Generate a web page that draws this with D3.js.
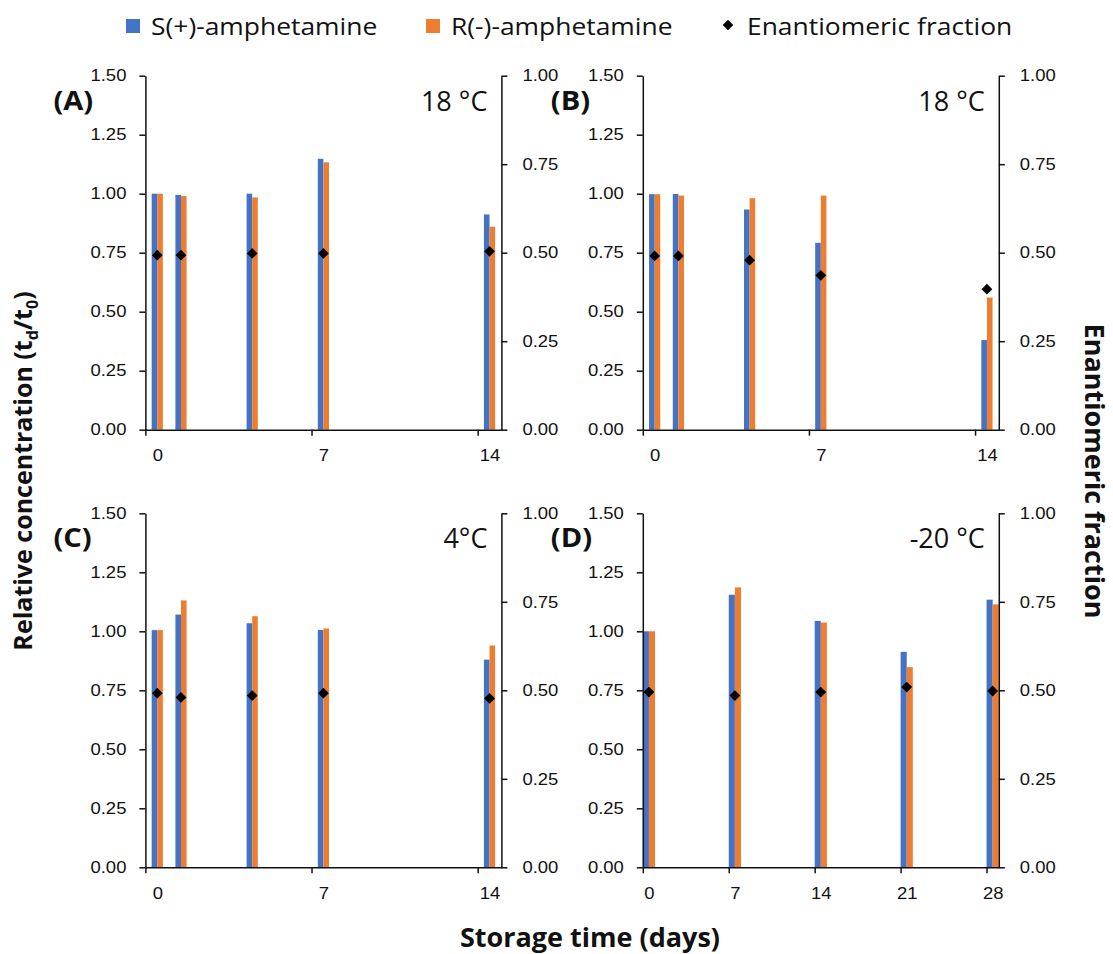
<!DOCTYPE html>
<html>
<head>
<meta charset="utf-8">
<script src="https://cdn.jsdelivr.net/npm/d3@7/dist/d3.min.js"></script>
<style>
  body { margin: 0; background: #fff; }
  svg { display: block; font-family: 'Open Sans', sans-serif; }
  .axis path, .axis line { stroke: #111; stroke-width: 1.5px; }
  .axis text { fill: #111; }
</style>
</head>
<body>
<svg id="chart" width="1113" height="954"></svg>
<script>
'use strict';

var seriesNames = ['S(+)-amphetamine', 'R(-)-amphetamine', 'Enantiomeric fraction'];
var seriesColors = ['#4472c4', '#ed7d31', '#000'];
var panelLetters = ['(A)', '(B)', '(C)', '(D)'];
var temperatures = ['18 °C', '18 °C', '4°C', '-20 °C'];

// storage days actually sampled, and the days written under the axis
var daysShort = [0, 1, 4, 7, 14];
var daysLong = [0, 7, 14, 21, 28];
var labelDaysShort = [0, 7, 14];
var labelDaysLong = [0, 7, 14, 21, 28];

// relative concentration (td/t0) and enantiomeric fraction
var sA = [1.000, 0.995, 1.000, 1.148, 0.912];
var rA = [1.000, 0.990, 0.984, 1.133, 0.860];
var efA = [0.493, 0.493, 0.498, 0.498, 0.504];

var sB = [0.998, 0.999, 0.933, 0.792, 0.380];
var rB = [0.998, 0.992, 0.981, 0.992, 0.560];
var efB = [0.491, 0.491, 0.479, 0.436, 0.397];

var sC = [1.005, 1.071, 1.034, 1.006, 0.880];
var rC = [1.005, 1.131, 1.064, 1.012, 0.940];
var efC = [0.492, 0.480, 0.485, 0.492, 0.477];

var sD = [1.000, 1.155, 1.044, 0.913, 1.134];
var rD = [1.000, 1.186, 1.037, 0.848, 1.114];
var efD = [0.495, 0.485, 0.495, 0.509, 0.498];

var relTicks = [0, 0.25, 0.5, 0.75, 1, 1.25, 1.5];
var efTicks = [0, 0.25, 0.5, 0.75, 1];

var panels = [
    {letter: panelLetters[0], temp: temperatures[0], days: daysShort, labels: labelDaysShort, s: sA, r: rA, ef: efA, col: 0, row: 0},
    {letter: panelLetters[1], temp: temperatures[1], days: daysShort, labels: labelDaysShort, s: sB, r: rB, ef: efB, col: 1, row: 0},
    {letter: panelLetters[2], temp: temperatures[2], days: daysShort, labels: labelDaysShort, s: sC, r: rC, ef: efC, col: 0, row: 1},
    {letter: panelLetters[3], temp: temperatures[3], days: daysLong, labels: labelDaysLong, s: sD, r: rD, ef: efD, col: 1, row: 1}
];

var plotW = 356,
    plotH = 354,
    colLeft = [145.4, 642.8],
    rowTop = [75.7, 513.3],
    SX = 1.12;          // the original figure is stretched sideways a bit

var svg = d3.select('#chart');

// stretch a text sideways about its own anchor
function stretch(sel, x) {
    sel.attr('x', x / SX).attr('transform', 'scale(' + SX + ',1)');
}

function drawPanel(p) {
    var maxDay = p.days[p.days.length - 1],
        barW = maxDay > 14 ? 6.1 : 5.6;

    var x = d3.scaleLinear().domain([-0.5, maxDay + 0.5]).range([0, plotW]),
        yL = d3.scaleLinear().domain([0, 1.5]).range([plotH, 0]),
        yR = d3.scaleLinear().domain([0, 1]).range([plotH, 0]);

    var g = svg.append('g')
        .attr('transform', 'translate(' + [colLeft[p.col], rowTop[p.row]] + ')');

    var rows = p.days.map(function(d, i) {
        return {day: d, s: p.s[i], r: p.r[i], ef: p.ef[i]};
    });

    // bars: S(+) left of the day, R(-) right of it
    g.selectAll('.bar-s')
        .data(rows)
      .enter().append('rect')
        .attr('x', function(d) { return x(d.day) - barW; })
        .attr('y', function(d) { return yL(d.s); })
        .attr('width', barW)
        .attr('height', function(d) { return plotH - yL(d.s); })
        .style('fill', seriesColors[0]);

    g.selectAll('.bar-r')
        .data(rows)
      .enter().append('rect')
        .attr('x', function(d) { return x(d.day); })
        .attr('y', function(d) { return yL(d.r); })
        .attr('width', barW)
        .attr('height', function(d) { return plotH - yL(d.r); })
        .style('fill', seriesColors[1]);

    // left axis
    var left = g.append('g')
        .attr('class', 'axis')
        .call(d3.axisLeft(yL).tickValues(relTicks).tickFormat(d3.format('.2f'))
            .tickSizeInner(6).tickSizeOuter(0));
    left.selectAll('text').style('font-size', '16.5px').call(stretch, -19);

    // right axis
    var right = g.append('g')
        .attr('class', 'axis')
        .attr('transform', 'translate(' + plotW + ',0)')
        .call(d3.axisRight(yR).tickValues(efTicks).tickFormat(d3.format('.2f'))
            .tickSizeInner(6).tickSizeOuter(0));
    right.selectAll('text').style('font-size', '16.5px').call(stretch, 21);

    // bottom axis: tick marks sit between days, labels under the days
    g.append('g')
        .attr('class', 'axis')
        .attr('transform', 'translate(0,' + plotH + ')')
        .call(d3.axisBottom(x).tickValues(p.labels.map(function(d) { return d - 0.5; }))
            .tickFormat('').tickSizeInner(6).tickSizeOuter(0));

    var bottom = g.append('g')
        .attr('class', 'axis')
        .attr('transform', 'translate(0,' + plotH + ')')
        .call(d3.axisBottom(x).tickValues(p.labels).tickSize(0).tickPadding(20));
    bottom.select('.domain').remove();
    bottom.selectAll('text').style('font-size', '16.5px').call(stretch, 0);

    // enantiomeric fraction markers
    g.selectAll('.ef')
        .data(rows)
      .enter().append('path')
        .attr('d', d3.symbol(d3.symbolSquare, 58))
        .attr('transform', function(d) {
            return 'translate(' + [x(d.day), yR(d.ef)] + ') rotate(45)';
        })
        .style('fill', seriesColors[2]);

    // panel letter and storage temperature
    g.append('text')
        .attr('y', 34)
        .style('font-size', '26px')
        .style('font-weight', 'bold')
        .style('fill', '#111')
        .text(p.letter)
        .call(stretch, -92);

    g.append('text')
        .attr('x', plotW - 14)
        .attr('y', 35)
        .attr('text-anchor', 'end')
        .style('font-size', '27px')
        .style('fill', '#111')
        .text(p.temp);
}

panels.forEach(drawPanel);

// legend
var legendX = [126, 426, 722];
var legend = svg.append('g').attr('transform', 'translate(0,26)');

seriesNames.forEach(function(name, i) {
    var item = legend.append('g').attr('transform', 'translate(' + legendX[i] + ',0)');
    if(i < 2) {
        item.append('rect')
            .attr('y', -7)
            .attr('width', 14)
            .attr('height', 14)
            .style('fill', seriesColors[i]);
    } else {
        item.append('path')
            .attr('d', d3.symbol(d3.symbolSquare, 56))
            .attr('transform', 'translate(6,-1) rotate(45)')
            .style('fill', seriesColors[i]);
    }
    item.append('text')
        .attr('y', 9)
        .style('font-size', '23.6px')
        .style('fill', '#111')
        .text(name)
        .call(stretch, 25);
});

// axis titles
var leftTitle = svg.append('text')
    .attr('transform', 'translate(32,471) rotate(-90)')
    .attr('text-anchor', 'middle')
    .style('font-size', '25px')
    .style('font-weight', 'bold')
    .style('fill', '#111');
leftTitle.append('tspan').text('Relative concentration (t');
leftTitle.append('tspan').attr('dy', 6).style('font-size', '16px').text('d');
leftTitle.append('tspan').attr('dy', -6).text('/t');
leftTitle.append('tspan').attr('dy', 6).style('font-size', '16px').text('0');
leftTitle.append('tspan').attr('dy', -6).text(')');

svg.append('text')
    .attr('transform', 'translate(1085,471) rotate(90)')
    .attr('text-anchor', 'middle')
    .style('font-size', '27px')
    .style('font-weight', 'bold')
    .style('fill', '#111')
    .text('Enantiomeric fraction');

svg.append('text')
    .attr('x', 590)
    .attr('y', 947)
    .attr('text-anchor', 'middle')
    .style('font-size', '27px')
    .style('font-weight', 'bold')
    .style('fill', '#111')
    .text('Storage time (days)');
</script>
</body>
</html>
